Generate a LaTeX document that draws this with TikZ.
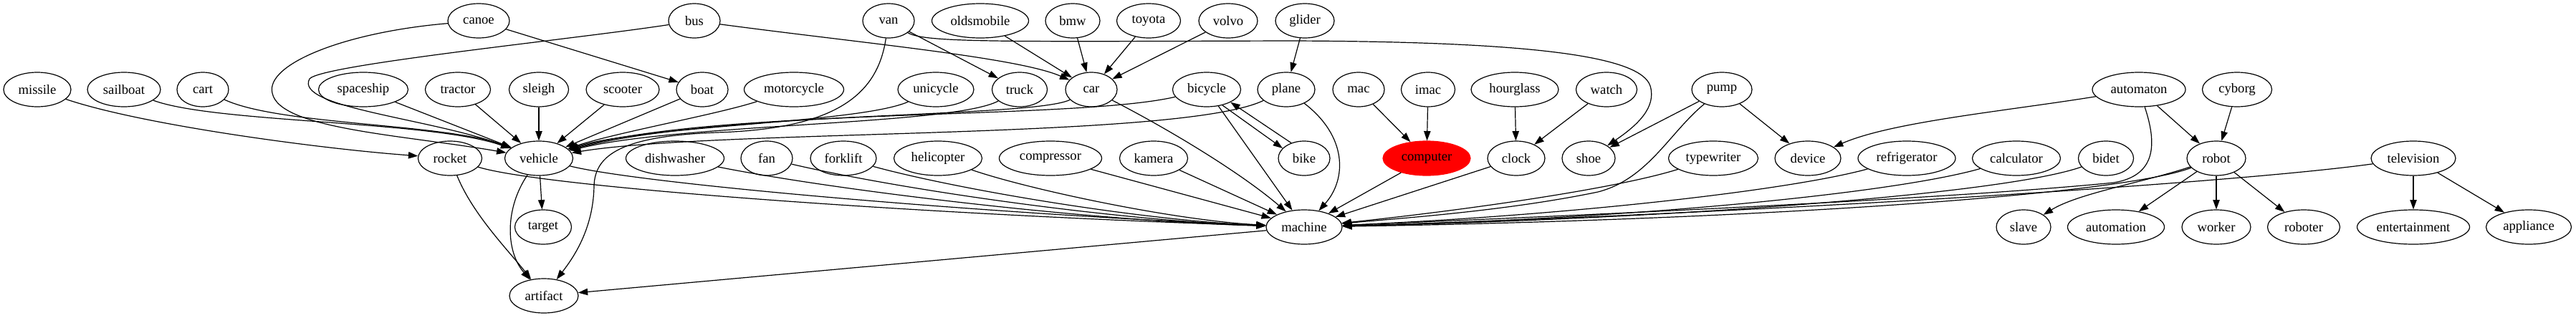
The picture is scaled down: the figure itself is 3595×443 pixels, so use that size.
\documentclass[tikz,border=0pt]{standalone}
\usepackage{fontspec}
\setmainfont{Liberation Serif}
\usetikzlibrary{shapes.geometric,arrows.meta}
\begin{document}
\begin{tikzpicture}[x=0.75pt,y=-0.75pt,
 nd/.style={draw,ellipse,inner sep=0pt,minimum height=36pt,line width=0.9pt,font=\fontsize{14}{16}\selectfont},
 ed/.style={line width=0.9pt,-{Triangle[length=10pt,width=7pt]}}]
\useasboundingbox (0,0) rectangle (3595,443);
% row 1
\node[nd,minimum width=64.5pt] (canoe) at (668,29) {canoe};
\node[nd,minimum width=54pt] (bus) at (969,29) {bus};
\node[nd,minimum width=54pt] (van) at (1240,29) {van};
\node[nd,minimum width=101.25pt] (oldsmobile) at (1368,29) {oldsmobile};
\node[nd,minimum width=57pt] (bmw) at (1497,29) {bmw};
\node[nd,minimum width=66.75pt] (toyota) at (1603,29) {toyota};
\node[nd,minimum width=61.5pt] (volvo) at (1714,29) {volvo};
\node[nd,minimum width=61.5pt] (glider) at (1821,29) {glider};
% row 2
\node[nd,minimum width=70.5pt] (missile) at (52,125) {missile};
\node[nd,minimum width=76.5pt] (sailboat) at (173,125) {sailboat};
\node[nd,minimum width=54pt] (cart) at (283,125) {cart};
\node[nd,minimum width=93.75pt] (spaceship) at (507,125) {spaceship};
\node[nd,minimum width=68.25pt] (tractor) at (639,125) {tractor};
\node[nd,minimum width=62.25pt] (sleigh) at (752,125) {sleigh};
\node[nd,minimum width=76.5pt] (scooter) at (869,125) {scooter};
\node[nd,minimum width=54pt] (boat) at (980,125) {boat};
\node[nd,minimum width=104.25pt] (motorcycle) at (1108,125) {motorcycle};
\node[nd,minimum width=79.5pt] (unicycle) at (1306,125) {unicycle};
\node[nd,minimum width=57.75pt] (truck) at (1423,125) {truck};
\node[nd,minimum width=54pt] (car) at (1523,125) {car};
\node[nd,minimum width=71.25pt] (bicycle) at (1684,125) {bicycle};
\node[nd,minimum width=60pt] (plane) at (1795,125) {plane};
\node[nd,minimum width=54pt] (mac) at (1896,125) {mac};
\node[nd,minimum width=56.25pt] (imac) at (1993,125) {imac};
\node[nd,minimum width=91.5pt] (hourglass) at (2114,125) {hourglass};
\node[nd,minimum width=63.75pt] (watch) at (2242,125) {watch};
\node[nd,minimum width=63pt] (pump) at (2403,125) {pump};
\node[nd,minimum width=97.5pt] (automaton) at (2985,125) {automaton};
\node[nd,minimum width=72.75pt] (cyborg) at (3122,125) {cyborg};
% row 3
\node[nd,minimum width=66.75pt] (rocket) at (628,221) {rocket};
\node[nd,minimum width=71.25pt] (vehicle) at (752,221) {vehicle};
\node[nd,minimum width=102.75pt] (dishwasher) at (942,221) {dishwasher};
\node[nd,minimum width=54pt] (fan) at (1070,221) {fan};
\node[nd,minimum width=69pt] (forklift) at (1177,221) {forklift};
\node[nd,minimum width=92.25pt] (helicopter) at (1309,221) {helicopter};
\node[nd,minimum width=107.25pt] (compressor) at (1466,221) {compressor};
\node[nd,minimum width=71.25pt] (kamera) at (1610,221) {kamera};
\node[nd,minimum width=54pt] (bike) at (1820,221) {bike};
\node[nd,minimum width=91.5pt,fill=red,draw=red] (computer) at (1991,221) {computer};
\node[nd,minimum width=60pt] (clock) at (2116,221) {clock};
\node[nd,minimum width=55.5pt] (shoe) at (2217,221) {shoe};
\node[nd,minimum width=93.75pt] (typewriter) at (2391,221) {typewriter};
\node[nd,minimum width=69pt] (device) at (2523,221) {device};
\node[nd,minimum width=102pt] (refrigerator) at (2661,221) {refrigerator};
\node[nd,minimum width=92.25pt] (calculator) at (2814,221) {calculator};
\node[nd,minimum width=57.75pt] (bidet) at (2939,221) {bidet};
\node[nd,minimum width=61.5pt] (robot) at (3093,221) {robot};
\node[nd,minimum width=88.5pt] (television) at (3368,221) {television};
% row 4
\node[nd,minimum width=59.25pt] (target) at (758,317) {target};
\node[nd,minimum width=79.5pt] (machine) at (1820,317) {machine};
\node[nd,minimum width=57pt] (slave) at (2824,317) {slave};
\node[nd,minimum width=101.25pt] (automation) at (2953,317) {automation};
\node[nd,minimum width=72pt] (worker) at (3093,317) {worker};
\node[nd,minimum width=75.75pt] (roboter) at (3215,317) {roboter};
\node[nd,minimum width=117.75pt] (entertainment) at (3368,317) {entertainment};
\node[nd,minimum width=89.25pt] (appliance) at (3529,317) {appliance};
% row 5
\node[nd,minimum width=72pt] (artifact) at (759,413) {artifact};
% edges into vehicle
\draw[ed] (missile) .. controls (200,175) and (450,208) .. (rocket);
\draw[ed] (sailboat) .. controls (300,172) and (600,168) .. (vehicle);
\draw[ed] (cart) .. controls (390,175) and (620,172) .. (vehicle);
\draw[ed] (canoe) .. controls (480,45) and (370,90) .. (380,130) .. controls (390,180) and (560,188) .. (vehicle);
\draw[ed] (bus) .. controls (800,55) and (450,90) .. (432,110) .. controls (410,150) and (600,165) .. (vehicle);
\draw[ed] (spaceship) -- (vehicle);
\draw[ed] (tractor) -- (vehicle);
\draw[ed] (sleigh) -- (vehicle);
\draw[ed] (scooter) -- (vehicle);
\draw[ed] (boat) -- (vehicle);
\draw[ed] (canoe) -- (boat);
\draw[ed] (motorcycle) .. controls (1000,160) and (860,185) .. (vehicle);
\draw[ed] (unicycle) .. controls (1200,172) and (900,175) .. (vehicle);
\draw[ed] (truck) .. controls (1330,175) and (950,172) .. (vehicle);
\draw[ed] (car) .. controls (1440,165) and (1000,155) .. (vehicle);
\draw[ed] (bicycle) .. controls (1500,168) and (1000,150) .. (vehicle);
\draw[ed] (plane) .. controls (1650,195) and (1000,180) .. (vehicle);
\draw[ed] (van) .. controls (1225,130) and (1170,180) .. (1000,185) .. controls (870,190) and (830,215) .. (829,260) .. controls (828,320) and (800,360) .. (artifact);
\draw[ed] (van) -- (truck);
\draw[ed] (van) .. controls (1290,60) and (1400,58) .. (1800,57) .. controls (2150,58) and (2290,80) .. (2303,120) .. controls (2312,150) and (2285,175) .. (shoe);
\draw[ed] (bus) .. controls (1200,60) and (1420,80) .. (car);
\draw[ed] (oldsmobile) -- (car);
\draw[ed] (bmw) -- (car);
\draw[ed] (toyota) -- (car);
\draw[ed] (volvo) -- (car);
\draw[ed] (glider) -- (plane);
\draw[ed] (car) .. controls (1630,180) and (1730,240) .. (machine);
\draw[ed] (bicycle) -- (machine);
\draw[ed] (bicycle.-45) -- (bike.155);
\draw[ed] (bike.130) -- (bicycle.-28);
\draw[ed] (plane) .. controls (1880,190) and (1880,250) .. (machine);
\draw[ed] (mac) -- (computer);
\draw[ed] (imac) -- (computer);
\draw[ed] (computer) -- (machine);
\draw[ed] (hourglass) -- (clock);
\draw[ed] (watch) -- (clock);
\draw[ed] (clock) -- (machine);
\draw[ed] (pump) -- (shoe);
\draw[ed] (pump) -- (device);
\draw[ed] (pump) .. controls (2330,185) and (2300,250) .. (2230,268) .. controls (2100,295) and (1950,305) .. (machine);
\draw[ed] (typewriter) .. controls (2250,265) and (2030,295) .. (machine);
\draw[ed] (refrigerator) .. controls (2500,265) and (2200,300) .. (machine);
\draw[ed] (calculator) .. controls (2650,268) and (2300,305) .. (machine);
\draw[ed] (bidet) .. controls (2800,270) and (2350,305) .. (machine);
\draw[ed] (automaton) .. controls (3010,200) and (3010,245) .. (2950,255) .. controls (2700,280) and (2100,305) .. (machine);
\draw[ed] (automaton) .. controls (2800,155) and (2640,170) .. (device);
\draw[ed] (automaton) -- (robot);
\draw[ed] (cyborg) -- (robot);
\draw[ed] (robot) .. controls (2990,255) and (2900,270) .. (slave);
\draw[ed] (robot) -- (automation);
\draw[ed] (robot) -- (worker);
\draw[ed] (robot) -- (roboter);
\draw[ed] (robot) .. controls (2950,275) and (2400,308) .. (machine);
\draw[ed] (television) .. controls (3100,258) and (2400,300) .. (machine);
\draw[ed] (television) -- (entertainment);
\draw[ed] (television) -- (appliance);
\draw[ed] (dishwasher) .. controls (1162,265) and (1513,308) .. (machine);
\draw[ed] (fan) .. controls (1258,265) and (1558,308) .. (machine);
\draw[ed] (forklift) .. controls (1338,265) and (1595,308) .. (machine);
\draw[ed] (helicopter) .. controls (1437,265) and (1641,308) .. (machine);
\draw[ed] (compressor) -- (machine);
\draw[ed] (kamera) -- (machine);
\draw[ed] (vehicle) .. controls (900,258) and (1400,300) .. (machine);
\draw[ed] (rocket) .. controls (760,262) and (1300,300) .. (machine);
\draw[ed] (vehicle) -- (target);
\draw[ed] (vehicle) .. controls (705,290) and (705,350) .. (artifact);
\draw[ed] (rocket) .. controls (660,300) and (710,350) .. (artifact);
\draw[ed] (machine) -- (artifact);
\end{tikzpicture}
\end{document}
